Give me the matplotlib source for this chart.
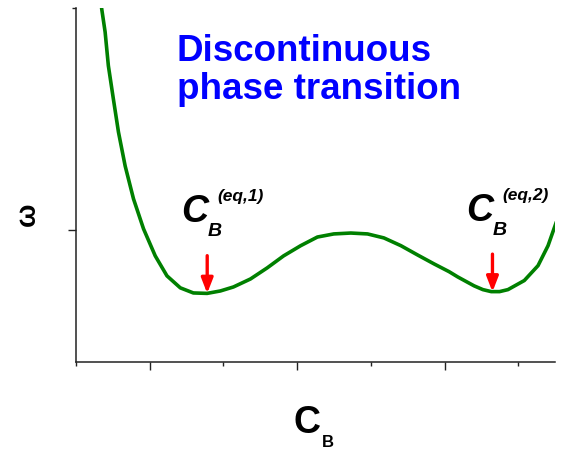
import matplotlib
matplotlib.use("Agg")
import matplotlib.pyplot as plt
from matplotlib.ticker import NullFormatter

plt.rcParams['font.family'] = ['Liberation Sans', 'DejaVu Sans']

cb = [0.347, 0.395, 0.439, 0.507, 0.576, 0.667, 0.780, 0.916, 1.075, 1.234,
      1.415, 1.592, 1.778, 1.959, 2.136, 2.367, 2.594, 2.816, 3.048, 3.275,
      3.497, 3.728, 3.955, 4.177, 4.408, 4.635, 4.857, 5.061, 5.180, 5.401,
      5.520, 5.633, 5.746, 5.860, 6.082, 6.268, 6.404, 6.517]
omega = [3.000, 2.892, 2.740, 2.590, 2.441, 2.288, 2.140, 2.005, 1.883, 1.793,
         1.739, 1.716, 1.714, 1.725, 1.743, 1.779, 1.829, 1.883, 1.929, 1.968,
         1.982, 1.986, 1.982, 1.964, 1.929, 1.887, 1.847, 1.812, 1.788, 1.748,
         1.731, 1.722, 1.722, 1.731, 1.772, 1.839, 1.929, 2.036]

# equilibrium compositions marked with arrows
eq_x = [1.78, 5.65]
eq_y = [1.714, 1.721]
eq_names = ["(eq,1)", "(eq,2)"]

fig = plt.figure(figsize=(5.63, 4.52), dpi=100)
ax = fig.add_axes([0.135, 0.197, 0.851, 0.783])

ax.plot(cb, omega, color='green', lw=2.6, solid_capstyle='round',
        solid_joinstyle='round')

ax.set_xlim(0, 6.5)
ax.set_ylim(1.405, 3.0)

for side in ['top', 'right']:
    ax.spines[side].set_visible(False)
for side in ['left', 'bottom']:
    ax.spines[side].set_linewidth(1.1)
    ax.spines[side].set_color('#222222')

ax.set_xticks([1, 3, 5])
ax.set_xticks([0, 2, 4, 6], minor=True)
ax.set_yticks([2])
ax.set_yticks([3], minor=True)
ax.xaxis.set_major_formatter(NullFormatter())
ax.yaxis.set_major_formatter(NullFormatter())
ax.tick_params(which='major', length=6, width=1, color='#222222')
ax.tick_params(which='minor', length=3, width=1, color='#222222')

# axis labels
fig.text(0.05, 0.525, "\u03c9", rotation=90, fontsize=20, fontweight='bold',
         ha='center', va='center')
fig.text(0.545, 0.042, "C", fontsize=27, fontweight='bold', ha='center', va='baseline')
fig.text(0.572, 0.011, "B", fontsize=12, fontweight='bold', ha='left', va='baseline')

fig.text(0.314, 0.781, "Discontinuous\nphase transition", color='#0000ff',
         fontsize=26.5, fontweight='bold', ha='left', va='baseline', linespacing=1.1)

for x, y, name in zip(eq_x, eq_y, eq_names):
    ax.annotate("", xy=(x, y), xytext=(x, y + 0.17),
                arrowprops=dict(arrowstyle='-|>,head_length=0.9,head_width=0.35',
                                color='red', lw=2.4, shrinkA=0, shrinkB=0))
    ax.annotate("C", xy=(x, y), xytext=(-19, 52), textcoords='offset points',
                fontsize=27, fontweight='bold', fontstyle='italic', ha='left', va='baseline')
    ax.annotate("B", xy=(x, y), xytext=(0, 42), textcoords='offset points',
                fontsize=14, fontweight='bold', fontstyle='italic', ha='left', va='baseline')
    ax.annotate(name, xy=(x, y), xytext=(7, 67), textcoords='offset points',
                fontsize=12.5, fontweight='bold', fontstyle='italic', ha='left', va='baseline')

fig.savefig("out.png", dpi=100)
